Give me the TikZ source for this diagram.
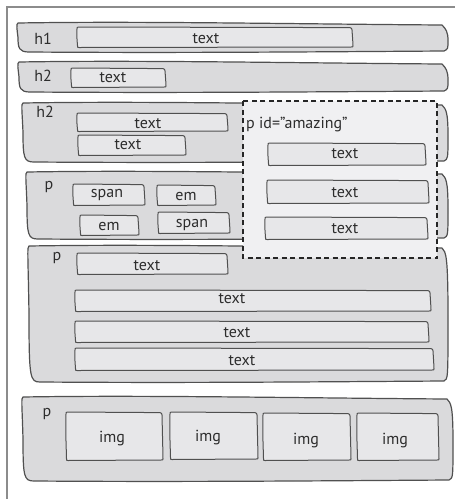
\documentclass[tikz,border=0pt]{standalone}
\usepackage{fontspec}
\setmainfont{PT Sans}
\definecolor{rowfill}{RGB}{218,218,220}
\definecolor{boxfill}{RGB}{231,231,233}
\definecolor{amzfill}{RGB}{240,240,242}
\definecolor{stroke}{RGB}{80,80,80}
\definecolor{txt}{RGB}{45,45,45}
\definecolor{framec}{RGB}{140,140,140}
\tikzset{
  frameline/.style={draw=framec,line width=1.6pt},
  rowbox/.style={draw=stroke,fill=rowfill,line width=1.2pt,line join=round},
  inbox/.style={draw=stroke,fill=boxfill,line width=1pt,line join=round},
  amz/.style={draw=black!85,fill=amzfill,line width=1.6pt,dash pattern=on 5pt off 3.5pt},
  lbl/.style={text=txt,font=\fontsize{16}{18}\selectfont,inner sep=0pt,anchor=base},
}
\newcommand\rowshape[4]{%
  \draw[rowbox] ({#1+1},{#2}) .. controls ({#1+120},{#2-2}) and ({#3-150},{#2+1}) .. ({#3-5},{#2+2})
  .. controls ({#3-1},{#2+6}) and ({#3+1},{#2+9}) .. ({#3+1},{(#2+#4)/2+3})
  .. controls ({#3+1},{#4-3}) .. ({#3-3},{#4-1})
  .. controls ({#3-150},{#4}) and ({#1+150},{#4+1}) .. ({#1+12},{#4})
  .. controls ({#1+2},{#4}) and ({#1+1},{#4-4}) .. ({#1+1},{(#2+#4)/2})
  .. controls ({#1},{#2+6}) and ({#1-1},{#2+1}) .. cycle;}
\newcommand\ibox[4]{%
  \draw[inbox] ({(#1+#3)/2},{#2+0.3}) -- ({#3-2},{#2+0.6})
  .. controls ({#3-0.5},{#2+0.6}) and ({#3},{#2+2}) .. ({#3},{#2+3})
  .. controls ({#3+0.5},{(#2+#4)/2}) and ({#3+1},{#4-3}) .. ({#3+1},{#4-1.5})
  .. controls ({#3+1},{#4}) .. ({#3-1},{#4})
  -- ({#1+2},{#4+0.5})
  .. controls ({#1+0.5},{#4+0.5}) .. ({#1+0.5},{#4-1.5})
  .. controls ({#1},{(#2+#4)/2+2}) and ({#1-0.5},{(#2+#4)/2-2}) .. ({#1},{#2+2})
  .. controls ({#1},{#2+0.2}) .. ({#1+2},{#2}) -- cycle;}
\begin{document}
\begin{tikzpicture}[x=1pt,y=-1pt]
\useasboundingbox (0,0) rectangle (455,499);
\draw[frameline] (7,499) -- (7,7) -- (456,7);
% row 1
\rowshape{17}{23}{447}{52}
\node[lbl] (h1) at (43,44) {h1};
\ibox{77}{27}{352}{47}
\node[lbl] (t1) at (206,43) {text};
% row 2
\rowshape{18}{62}{447}{92}
\node[lbl] (h2a) at (43,81) {h2};
\ibox{71}{68}{165}{87}
\node[lbl] (t2) at (113,82) {text};
% row 3
\rowshape{22}{103}{447}{162}
\node[lbl] (h2b) at (45,117) {h2};
\ibox{77}{113}{227}{131}
\node[lbl] (t3a) at (148,128) {text};
\ibox{78}{135}{185}{155}
\node[lbl] (t3b) at (128,149) {text};
% row 4
\rowshape{26}{172}{447}{239}
\node[lbl] (p1) at (49,189) {p};
\ibox{73}{184}{144}{205}
\node[lbl] (s1) at (107,197) {span};
\ibox{157}{185}{215}{205}
\node[lbl] (e1) at (186,200) {em};
\ibox{80}{215}{138}{235}
\node[lbl] (e2) at (109,230) {em};
\ibox{158}{212}{229}{233}
\node[lbl] (s2) at (192,227) {span};
% row 5
\rowshape{28}{246}{447}{382}
\node[lbl] (p2) at (57,260) {p};
\ibox{77}{253}{227}{274}
\node[lbl] (t5a) at (147,270) {text};
\ibox{75}{290}{430}{311}
\node[lbl] (t5b) at (232,303) {text};
\ibox{75}{321}{428}{342}
\node[lbl] (t5c) at (237,337) {text};
\ibox{75}{348}{433}{370}
\node[lbl] (t5d) at (242,365) {text};
% amazing box
\draw[amz] (243,101) rectangle (437,258);
\node[lbl,anchor=base west] (amz) at (246,128) {p id=”amazing”};
\ibox{268}{143}{425}{165}
\node[lbl] (ta) at (345,158) {text};
\ibox{267}{180}{428}{203}
\node[lbl] (tb) at (345,197) {text};
\ibox{265}{217}{427}{239}
\node[lbl] (tc) at (345,233) {text};
% row 6
\rowshape{22}{397}{452}{481}
\node[lbl] (p3) at (47,416) {p};
\ibox{66}{412}{162}{460}
\node[lbl] (i1) at (112,442) {img};
\ibox{170}{412}{257}{459}
\node[lbl] (i2) at (208,441) {img};
\ibox{263}{413}{350}{460}
\node[lbl] (i3) at (306,444) {img};
\ibox{357}{413}{438}{460}
\node[lbl] (i4) at (395,444) {img};
\end{tikzpicture}
\end{document}
